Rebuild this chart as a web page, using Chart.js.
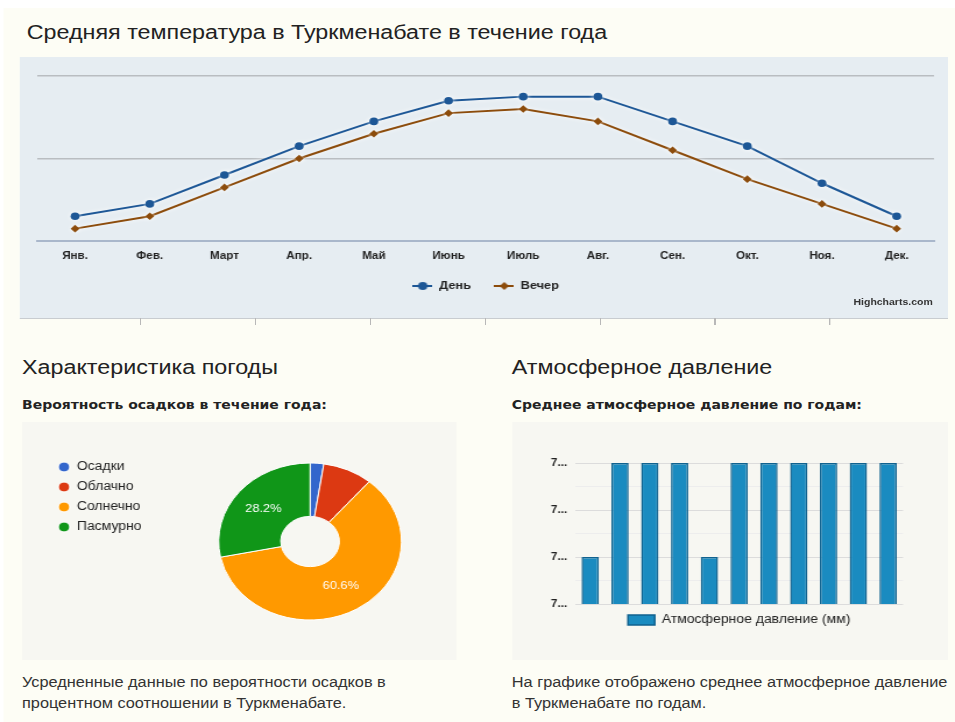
<!DOCTYPE html>
<html>
<head>
<meta charset="utf-8">
<script src="https://cdn.jsdelivr.net/npm/chart.js@4"></script>
<style>
html, body { margin: 0; padding: 0; background: #fff; width: 955px; height: 722px; overflow: hidden; }
#page { position: absolute; left: 0; top: 0; width: 820px; height: 722px; transform: scaleX(1.1646); transform-origin: 0 0;
        font-family: "Liberation Sans", Arial, sans-serif; color: #222; }
.bg { position: absolute; left: 2.6px; top: 8px; right: 0; bottom: 0; background: #fdfdf5; }
.t { position: absolute; white-space: nowrap; }
.h1 { font-size: 20px; }
.h3 { font-size: 12px; font-weight: bold; font-family: "DejaVu Sans", sans-serif; }
.p { font-size: 14px; line-height: 21px; color: #333; }
.panel { position: absolute; overflow: hidden; }
</style>
</head>
<body>
<div id="page">
  <div class="bg"></div>
  <div class="t h1" style="left:23px; top:21px;">Средняя температура в Туркменабате в течение года</div>

  <div class="panel" style="left:17.2px; top:57px; width:796.5px; height:261px; background:#e6edf2; border-bottom:1px solid #c8ccd0;">
    <canvas id="lineChart"></canvas>
    <div class="t" style="right:12.8px; top:240px; font-size:9px; font-weight:bold; color:#333;">Highcharts.com</div>
  </div>
  <div style="position:absolute; left:120.2px; top:318px; width:593px; height:7px;
              background:repeating-linear-gradient(to right, #b8b8b8 0 1px, transparent 1px 98.7px);"></div>

  <div class="t h1" style="left:18.9px; top:356px;">Характеристика погоды</div>
  <div class="t h3" style="left:18.9px; top:398px;">Вероятность осадков в течение года:</div>
  <div class="panel" style="left:18.9px; top:422px; width:373.4px; height:238px; background:#f7f7f2;">
    <canvas id="pieChart"></canvas>
  </div>
  <div class="t p" style="left:18.9px; top:672px;">Усредненные данные по вероятности осадков в<br>процентном соотношении в Туркменабате.</div>

  <div class="t h1" style="left:439.5px; top:356px;">Атмосферное давление</div>
  <div class="t h3" style="left:439.5px; top:398px;">Среднее атмосферное давление по годам:</div>
  <div class="panel" style="left:439.5px; top:422px; width:374.2px; height:238px; background:#f7f7f2;">
    <canvas id="barChart"></canvas>
  </div>
  <div class="t p" style="left:439.5px; top:672px;">На графике отображено среднее атмосферное давление<br>в Туркменабате по годам.</div>
</div>

<script>
// температура по месяцам
const months = ['Янв.', 'Фев.', 'Март', 'Апр.', 'Май', 'Июнь', 'Июль', 'Авг.', 'Сен.', 'Окт.', 'Ноя.', 'Дек.'];
const dayTemps = [6, 9, 16, 23, 29, 34, 35, 35, 29, 23, 14, 6];
const eveningTemps = [3, 6, 13, 20, 26, 31, 32, 29, 22, 15, 9, 3];

// осадки
const pieLabels = ['Осадки', 'Облачно', 'Солнечно', 'Пасмурно'];
const pieValues = [2.4, 8.8, 60.6, 28.2];
const pieColors = ['#3366cc', '#dc3912', '#ff9900', '#109618'];

// давление
const barYears = ['2005', '2006', '2007', '2008', '2009', '2010', '2011', '2012', '2013', '2014', '2015'];
const barValues = [742, 744, 744, 744, 742, 744, 744, 744, 744, 744, 744];

function legendIcon(color, shape) {
    const c = document.createElement('canvas');
    c.width = 17; c.height = 10;
    const g = c.getContext('2d');
    g.strokeStyle = color; g.fillStyle = color; g.lineWidth = 2;
    g.beginPath(); g.moveTo(0, 5); g.lineTo(17, 5); g.stroke();
    g.beginPath();
    if (shape === 'circle') {
        g.arc(8.5, 5, 4, 0, Math.PI * 2);
    } else {
        g.moveTo(8.5, 1); g.lineTo(12.5, 5); g.lineTo(8.5, 9); g.lineTo(4.5, 5); g.closePath();
    }
    g.fill();
    return c;
}

// белая подсветка линий
const haloPlugin = {
    id: 'halo',
    beforeDatasetsDraw(chart) {
        chart.ctx.save();
        chart.ctx.shadowColor = 'rgba(255,255,255,0.95)';
        chart.ctx.shadowBlur = 4;
    },
    afterDatasetsDraw(chart) {
        chart.ctx.restore();
    }
};

const lineCanvas = document.getElementById('lineChart');
lineCanvas.width = 796.5; lineCanvas.height = 261;
const icons = [legendIcon('#1d5796', 'circle'), legendIcon('#8c4c0c', 'diamond')];

new Chart(lineCanvas.getContext('2d'), {
    type: 'line',
    data: {
        labels: months,
        datasets: [{
            label: 'День',
            data: dayTemps,
            borderColor: '#1d5796',
            backgroundColor: '#1d5796',
            borderWidth: 2,
            pointRadius: 3.8,
            pointBorderWidth: 0,
            pointStyle: 'circle',
            tension: 0
        }, {
            label: 'Вечер',
            data: eveningTemps,
            borderColor: '#8c4c0c',
            backgroundColor: '#8c4c0c',
            borderWidth: 2,
            pointRadius: 3.8,
            pointBorderWidth: 0,
            pointStyle: 'rectRot',
            tension: 0
        }]
    },
    options: {
        responsive: false,
        animation: false,
        layout: { padding: { left: 15.4, right: 11, top: 19, bottom: 16.5 } },
        scales: {
            x: {
                offset: true,
                grid: { display: false, drawTicks: false },
                border: { color: '#a9b7cb', width: 2 },
                ticks: { padding: 9, color: '#222', font: { size: 10, weight: 'bold', family: '"Liberation Sans", Arial' } },
                afterFit(scale) { scale.height = 19.5; }
            },
            y: {
                min: 0,
                max: 40,
                ticks: { display: false, stepSize: 20 },
                grid: { color: '#b9bdc1', lineWidth: 1.5, drawTicks: false },
                border: { display: false }
            }
        },
        plugins: {
            legend: {
                position: 'bottom',
                labels: {
                    usePointStyle: true,
                    pointStyleWidth: 17,
                    padding: 20,
                    color: '#222',
                    font: { size: 11, weight: 'bold', family: '"Liberation Sans", Arial' },
                    generateLabels(chart) {
                        const items = Chart.defaults.plugins.legend.labels.generateLabels(chart);
                        items.forEach((it, i) => { it.pointStyle = icons[i]; });
                        return items;
                    }
                }
            },
            tooltip: { enabled: false }
        }
    },
    plugins: [haloPlugin]
});

// проценты на секторах
const pieLabelPlugin = {
    id: 'pieLabels',
    afterDatasetsDraw(chart) {
        const ctx = chart.ctx;
        const meta = chart.getDatasetMeta(0);
        const total = pieValues.reduce((a, b) => a + b, 0);
        ctx.save();
        ctx.fillStyle = '#fff';
        ctx.font = '11px "Liberation Sans", Arial';
        ctx.textAlign = 'center';
        ctx.textBaseline = 'middle';
        meta.data.forEach((arc, i) => {
            const pct = pieValues[i] / total * 100;
            if (pct < 20) return;
            const p = arc.tooltipPosition();
            ctx.fillText(pct.toFixed(1) + '%', p.x, p.y);
        });
        ctx.restore();
    }
};

const pieCanvas = document.getElementById('pieChart');
pieCanvas.width = 384; pieCanvas.height = 238;
new Chart(pieCanvas.getContext('2d'), {
    type: 'doughnut',
    data: {
        labels: pieLabels,
        datasets: [{
            data: pieValues,
            backgroundColor: pieColors,
            borderColor: '#fff',
            borderWidth: 1
        }]
    },
    options: {
        responsive: false,
        animation: false,
        radius: 78.5,
        cutout: '32%',
        layout: { padding: { left: 23, right: 2, top: 31, bottom: 30 } },
        plugins: {
            legend: {
                position: 'left',
                align: 'start',
                labels: {
                    usePointStyle: true,
                    pointStyle: 'circle',
                    boxWidth: 10,
                    boxHeight: 7,
                    padding: 8,
                    color: '#222',
                    font: { size: 12, family: '"Liberation Sans", Arial' }
                }
            },
            tooltip: { enabled: false }
        }
    },
    plugins: [pieLabelPlugin]
});

const barCanvas = document.getElementById('barChart');
barCanvas.width = 374.2; barCanvas.height = 238;
new Chart(barCanvas.getContext('2d'), {
    type: 'bar',
    data: {
        labels: barYears,
        datasets: [{
            label: 'Атмосферное давление (мм)',
            data: barValues,
            backgroundColor: '#1a8bc0',
            borderColor: '#10628f',
            borderWidth: 1.5,
            barPercentage: 0.58,
            categoryPercentage: 1
        }]
    },
    options: {
        responsive: false,
        animation: false,
        layout: { padding: { left: 24, right: 8.6, top: 41, bottom: 24 } },
        scales: {
            x: { display: false },
            y: {
                min: 741,
                max: 744,
                border: { display: false },
                grid: {
                    drawTicks: false,
                    color: ctx => Number.isInteger(ctx.tick.value) ? '#dcdcdc' : '#ededed'
                },
                ticks: {
                    stepSize: 0.5,
                    padding: 7,
                    color: '#222',
                    font: { size: 10, weight: 'bold', family: '"Liberation Sans", Arial' },
                    callback: v => Number.isInteger(v) ? String(v).slice(0, 1) + '...' : ''
                },
                afterFit(scale) { scale.width = 30; }
            },
            // пустая ось справа, чтобы легенда была по центру области графика
            yRight: {
                position: 'right',
                ticks: { display: false },
                grid: { display: false },
                border: { display: false },
                afterFit(scale) { scale.width = 30; }
            }
        },
        plugins: {
            legend: {
                position: 'bottom',
                labels: {
                    boxWidth: 23,
                    boxHeight: 10,
                    padding: 10,
                    color: '#222',
                    font: { size: 12, family: '"Liberation Sans", Arial' }
                }
            },
            tooltip: { enabled: false }
        }
    }
});
</script>
</body>
</html>
